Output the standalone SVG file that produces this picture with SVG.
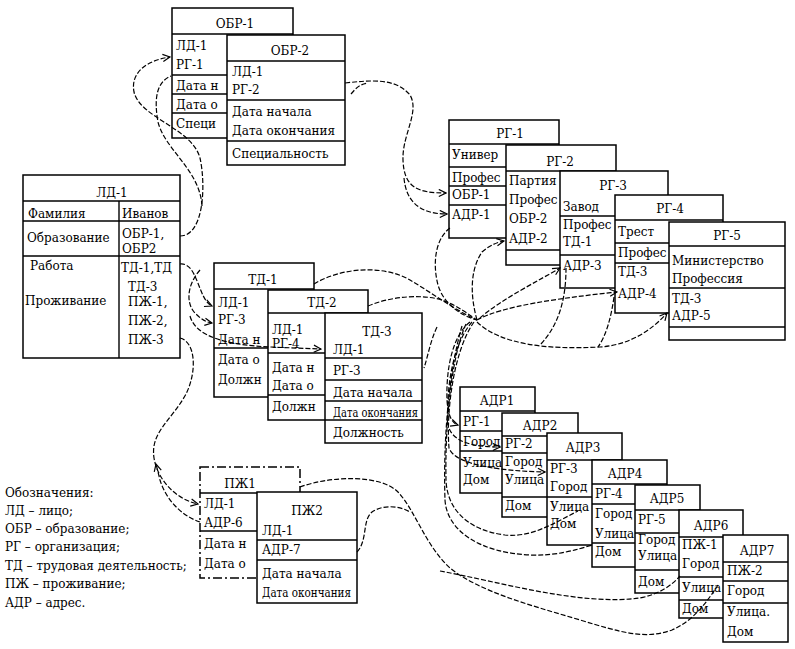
<svg xmlns="http://www.w3.org/2000/svg" width="795" height="649" viewBox="0 0 795 649">
<style>
.b{fill:#fff;stroke:#000;stroke-width:1.5}
.d{fill:#fff;stroke:#000;stroke-width:1.5;stroke-dasharray:9 3 2 3}
.l{stroke:#000;stroke-width:1.4}
.t{font-family:"DejaVu Serif","Liberation Serif",serif;font-size:12px;fill:#000}
.h{font-family:"DejaVu Serif","Liberation Serif",serif;font-size:12px;fill:#000;text-anchor:middle}
.c{fill:none;stroke:#000;stroke-width:1.2;stroke-dasharray:5 2}
</style>
<defs>
<marker id="a" viewBox="0 0 10 10" refX="9" refY="5" markerWidth="9" markerHeight="9" orient="auto" markerUnits="userSpaceOnUse"><path d="M1,1 L9,5 L1,9" fill="none" stroke="#000" stroke-width="1.3"/></marker>
</defs>

<g id="obr1">
<rect class="b" x="172" y="8" width="121" height="130"/>
<line class="l" x1="172" y1="34" x2="293" y2="34"/>
<line class="l" x1="172" y1="75" x2="293" y2="75"/>
<line class="l" x1="172" y1="94" x2="293" y2="94"/>
<line class="l" x1="172" y1="113" x2="293" y2="113"/>
<text class="h" x="235" y="28">ОБР-1</text>
<text class="t" x="176" y="50">ЛД-1</text>
<text class="t" x="176" y="69">РГ-1</text>
<text class="t" x="176" y="90">Дата н</text>
<text class="t" x="176" y="109">Дата о</text>
<text class="t" x="176" y="128">Специ</text>
</g>
<g id="obr2">
<rect class="b" x="227" y="35" width="118" height="130"/>
<line class="l" x1="227" y1="61" x2="345" y2="61"/>
<line class="l" x1="227" y1="100" x2="345" y2="100"/>
<line class="l" x1="227" y1="141" x2="345" y2="141"/>
<text class="h" x="290" y="55">ОБР-2</text>
<text class="t" x="232" y="76">ЛД-1</text>
<text class="t" x="232" y="94">РГ-2</text>
<text class="t" x="232" y="116">Дата начала</text>
<text class="t" x="232" y="135">Дата окончания</text>
<text class="t" x="232" y="158">Специальность</text>
</g>

<g id="ld1">
<rect class="b" x="23" y="175" width="157" height="183"/>
<line class="l" x1="23" y1="201" x2="180" y2="201"/>
<line class="l" x1="119" y1="201" x2="119" y2="358"/>
<line class="l" x1="23" y1="221" x2="180" y2="221"/>
<line class="l" x1="23" y1="256" x2="180" y2="256"/>
<text class="h" x="112" y="197">ЛД-1</text>
<text class="t" x="28" y="218">Фамилия</text>
<text class="t" x="122" y="218">Иванов</text>
<text class="t" x="27" y="242">Образование</text>
<text class="t" x="122" y="238">ОБР-1,</text>
<text class="t" x="122" y="253">ОБР2</text>
<text class="t" x="30" y="270">Работа</text>
<text class="t" x="121" y="272">ТД-1,ТД</text>
<text class="t" x="128" y="291">ТД-3</text>
<text class="t" x="25" y="305">Проживание</text>
<text class="t" x="128" y="306">ПЖ-1,</text>
<text class="t" x="128" y="325">ПЖ-2,</text>
<text class="t" x="128" y="344">ПЖ-3</text>
</g>

<g id="rg1">
<rect class="b" x="449" y="120" width="110" height="118"/>
<line class="l" x1="449" y1="144" x2="559" y2="144"/>
<line class="l" x1="449" y1="167" x2="559" y2="167"/>
<line class="l" x1="449" y1="186" x2="559" y2="186"/>
<line class="l" x1="449" y1="205" x2="559" y2="205"/>
<text class="h" x="510" y="138">РГ-1</text>
<text class="t" x="452" y="159">Универ</text>
<text class="t" x="452" y="182">Профес</text>
<text class="t" x="452" y="199">ОБР-1</text>
<text class="t" x="452" y="219">АДР-1</text>
</g>
<g id="rg2">
<rect class="b" x="506" y="145" width="110" height="120"/>
<line class="l" x1="506" y1="171" x2="616" y2="171"/>
<line class="l" x1="506" y1="250" x2="616" y2="250"/>
<text class="h" x="560" y="166">РГ-2</text>
<text class="t" x="509" y="185">Партия</text>
<text class="t" x="509" y="204">Профес</text>
<text class="t" x="509" y="223">ОБР-2</text>
<text class="t" x="509" y="243">АДР-2</text>
</g>
<g id="rg3">
<rect class="b" x="560" y="171" width="108" height="117"/>
<line class="l" x1="560" y1="216" x2="668" y2="216"/>
<line class="l" x1="560" y1="255" x2="668" y2="255"/>
<text class="h" x="613" y="190">РГ-3</text>
<text class="t" x="563" y="211">Завод</text>
<text class="t" x="563" y="229">Профес</text>
<text class="t" x="563" y="246">ТД-1</text>
<text class="t" x="563" y="270">АДР-3</text>
</g>
<g id="rg4">
<rect class="b" x="615" y="195" width="108" height="118"/>
<line class="l" x1="615" y1="220" x2="723" y2="220"/>
<line class="l" x1="615" y1="243" x2="723" y2="243"/>
<line class="l" x1="615" y1="263" x2="723" y2="263"/>
<text class="h" x="670" y="213">РГ-4</text>
<text class="t" x="618" y="236">Трест</text>
<text class="t" x="618" y="257">Профес</text>
<text class="t" x="618" y="276">ТД-3</text>
<text class="t" x="618" y="298">АДР-4</text>
</g>
<g id="rg5">
<rect class="b" x="669" y="222" width="116" height="118"/>
<line class="l" x1="669" y1="246" x2="785" y2="246"/>
<line class="l" x1="669" y1="288" x2="785" y2="288"/>
<line class="l" x1="669" y1="327" x2="785" y2="327"/>
<text class="h" x="727" y="240">РГ-5</text>
<text class="t" x="672" y="265">Министерство</text>
<text class="t" x="672" y="283">Профессия</text>
<text class="t" x="672" y="303">ТД-3</text>
<text class="t" x="672" y="320">АДР-5</text>
</g>

<g id="td1">
<rect class="b" x="214" y="263" width="100" height="134"/>
<line class="l" x1="214" y1="289" x2="314" y2="289"/>
<line class="l" x1="214" y1="348" x2="314" y2="348"/>
<text class="h" x="263" y="284">ТД-1</text>
<text class="t" x="218" y="307">ЛД-1</text>
<text class="t" x="218" y="324">РГ-3</text>
<text class="t" x="218" y="344">Дата н</text>
<text class="t" x="218" y="364">Дата о</text>
<text class="t" x="218" y="384">Должн</text>
</g>
<g id="td2">
<rect class="b" x="268" y="290" width="100" height="130"/>
<line class="l" x1="268" y1="313" x2="368" y2="313"/>
<line class="l" x1="268" y1="353" x2="368" y2="353"/>
<line class="l" x1="268" y1="395" x2="368" y2="395"/>
<text class="h" x="322" y="307">ТД-2</text>
<text class="t" x="272" y="334">ЛД-1</text>
<text class="t" x="272" y="348">РГ-4</text>
<text class="t" x="272" y="372">Дата н</text>
<text class="t" x="272" y="390">Дата о</text>
<text class="t" x="272" y="411">Должн</text>
</g>
<g id="td3">
<rect class="b" x="325" y="313" width="97" height="130"/>
<line class="l" x1="325" y1="358" x2="422" y2="358"/>
<line class="l" x1="325" y1="380" x2="422" y2="380"/>
<line class="l" x1="325" y1="401" x2="422" y2="401"/>
<line class="l" x1="325" y1="420" x2="422" y2="420"/>
<text class="h" x="377" y="336">ТД-3</text>
<text class="t" x="333" y="354">ЛД-1</text>
<text class="t" x="333" y="375">РГ-3</text>
<text class="t" x="333" y="397">Дата начала</text>
<text class="t" x="333" y="417" textLength="85" lengthAdjust="spacingAndGlyphs">Дата окончания</text>
<text class="t" x="333" y="437">Должность</text>
</g>

<g id="pzh1">
<rect class="d" x="200" y="467" width="100" height="111"/>
<line class="l" x1="200" y1="493" x2="300" y2="493"/>
<line class="l" x1="200" y1="531" x2="300" y2="531"/>
<text class="h" x="240" y="488">ПЖ1</text>
<text class="t" x="204" y="508">ЛД-1</text>
<text class="t" x="204" y="527">АДР-6</text>
<text class="t" x="204" y="548">Дата н</text>
<text class="t" x="204" y="568">Дата о</text>
</g>
<g id="pzh2">
<rect class="b" x="257" y="492" width="100" height="111"/>
<line class="l" x1="257" y1="540" x2="357" y2="540"/>
<line class="l" x1="257" y1="560" x2="357" y2="560"/>
<text class="h" x="307" y="515">ПЖ2</text>
<text class="t" x="262" y="535">ЛД-1</text>
<text class="t" x="262" y="554">АДР-7</text>
<text class="t" x="262" y="578">Дата начала</text>
<text class="t" x="262" y="597" textLength="89" lengthAdjust="spacingAndGlyphs">Дата окончания</text>
</g>

<g id="adr1">
<rect class="b" x="460" y="387" width="75" height="106"/>
<line class="l" x1="460" y1="411" x2="535" y2="411"/>
<line class="l" x1="460" y1="431" x2="535" y2="431"/>
<line class="l" x1="460" y1="451" x2="535" y2="451"/>
<text class="h" x="497" y="405">АДР1</text>
<text class="t" x="463" y="426">РГ-1</text>
<text class="t" x="463" y="446">Город</text>
<text class="t" x="463" y="467">Улица</text>
<text class="t" x="463" y="484">Дом</text>
</g>
<g id="adr2">
<rect class="b" x="502" y="413" width="76" height="104"/>
<line class="l" x1="502" y1="436" x2="578" y2="436"/>
<line class="l" x1="502" y1="453" x2="578" y2="453"/>
<line class="l" x1="502" y1="497" x2="578" y2="497"/>
<text class="h" x="540" y="430">АДР2</text>
<text class="t" x="505" y="448">РГ-2</text>
<text class="t" x="505" y="466">Город</text>
<text class="t" x="505" y="484">Улица</text>
<text class="t" x="505" y="510">Дом</text>
</g>
<g id="adr3">
<rect class="b" x="547" y="433" width="75" height="112"/>
<line class="l" x1="547" y1="460" x2="622" y2="460"/>
<line class="l" x1="547" y1="497" x2="622" y2="497"/>
<text class="h" x="583" y="452">АДР3</text>
<text class="t" x="550" y="473">РГ-3</text>
<text class="t" x="550" y="491">Город</text>
<text class="t" x="550" y="511">Улица</text>
<text class="t" x="550" y="528">Дом</text>
</g>
<g id="adr4">
<rect class="b" x="592" y="460" width="75" height="107"/>
<line class="l" x1="592" y1="484" x2="667" y2="484"/>
<line class="l" x1="592" y1="504" x2="667" y2="504"/>
<line class="l" x1="592" y1="543" x2="667" y2="543"/>
<text class="h" x="625" y="478">АДР4</text>
<text class="t" x="595" y="498">РГ-4</text>
<text class="t" x="595" y="518">Город</text>
<text class="t" x="595" y="538">Улица</text>
<text class="t" x="595" y="556">Дом</text>
</g>
<g id="adr5">
<rect class="b" x="635" y="485" width="65" height="108"/>
<line class="l" x1="635" y1="510" x2="700" y2="510"/>
<line class="l" x1="635" y1="533" x2="700" y2="533"/>
<line class="l" x1="635" y1="570" x2="700" y2="570"/>
<text class="h" x="667" y="503">АДР5</text>
<text class="t" x="638" y="524">РГ-5</text>
<text class="t" x="638" y="544">Город</text>
<text class="t" x="638" y="560">Улица</text>
<text class="t" x="638" y="586">Дом</text>
</g>
<g id="adr6">
<rect class="b" x="679" y="510" width="64" height="108"/>
<line class="l" x1="679" y1="537" x2="743" y2="537"/>
<line class="l" x1="679" y1="577" x2="743" y2="577"/>
<line class="l" x1="679" y1="600" x2="743" y2="600"/>
<text class="h" x="711" y="530">АДР6</text>
<text class="t" x="682" y="549">ПЖ-1</text>
<text class="t" x="682" y="568">Город</text>
<text class="t" x="682" y="592">Улица</text>
<text class="t" x="682" y="613">Дом</text>
</g>
<g id="adr7">
<rect class="b" x="723" y="535" width="65" height="107"/>
<line class="l" x1="723" y1="562" x2="788" y2="562"/>
<line class="l" x1="723" y1="581" x2="788" y2="581"/>
<line class="l" x1="723" y1="603" x2="788" y2="603"/>
<text class="h" x="757" y="555">АДР7</text>
<text class="t" x="727" y="575">ПЖ-2</text>
<text class="t" x="727" y="595">Город</text>
<text class="t" x="727" y="616">Улица.</text>
<text class="t" x="727" y="636">Дом</text>
</g>

<g id="legend">
<text class="t" x="5" y="497">Обозначения:</text>
<text class="t" x="5" y="515">ЛД – лицо;</text>
<text class="t" x="5" y="533">ОБР – образование;</text>
<text class="t" x="5" y="551">РГ – организация;</text>
<text class="t" x="5" y="570">ТД – трудовая деятельность;</text>
<text class="t" x="5" y="588">ПЖ – проживание;</text>
<text class="t" x="5" y="607">АДР – адрес.</text>
</g>

<g id="connectors">
<path class="c" marker-end="url(#a)" d="M180,236 C204,236 206,185 200,158 C192,128 140,118 134,92 C130,72 148,60 170,57"/>
<path class="c" d="M202,206 C200,170 165,150 158,122 C154,100 156,82 171,76"/>
<path class="c" marker-end="url(#a)" d="M345,83 C372,80 396,78 410,95 C420,112 402,135 403,160 C404,188 418,193 446,193"/>
<path class="c" marker-end="url(#a)" d="M404,178 C406,200 418,214 447,214"/>
<path class="c" d="M351,94 C356,88 360,84 368,83"/>
<path class="c" marker-end="url(#a)" d="M180,264 C198,262 198,300 212,306"/>
<path class="c" marker-end="url(#a)" d="M200,270 C186,286 186,305 196,314 C202,320 206,322 212,323"/>
<path class="c" marker-end="url(#a)" d="M190,316 C196,338 230,345 270,347 L321,349"/>
<path class="c" marker-end="url(#a)" d="M180,338 C196,342 197,372 186,394 C172,420 150,432 154,458 C158,482 178,500 198,504"/>
<path class="c" marker-end="url(#a)" d="M200,522 C182,516 166,500 160,480 L156,464"/>
<path class="c" d="M300,487 C330,476 380,474 398,492 C415,510 425,545 450,568 C480,592 530,605 580,620 C620,632 645,640 672,630 C695,620 708,600 718,585"/>
<path class="c" d="M357,552 C368,540 362,520 372,512 C382,505 398,505 410,512"/>
<path class="c" d="M440,571 C500,582 580,606 640,598 C660,594 672,585 680,576"/>
<path class="c" d="M450,228 C436,238 432,262 438,285 C444,305 462,316 477,320"/>
<path class="c" d="M314,284 C340,268 382,264 410,280 C432,293 455,310 477,320"/>
<path class="c" d="M368,306 C392,296 422,294 442,300 C458,306 468,314 477,320"/>
<path class="c" marker-end="url(#a)" d="M477,320 C502,306 560,298 617,292"/>
<path class="c" marker-end="url(#a)" d="M477,322 C500,344 545,350 600,347 C630,345 652,330 667,313"/>
<path class="c" d="M566,268 C566,292 562,322 540,345"/>
<path class="c" d="M614,297 C611,318 606,336 598,347"/>
<path class="c" marker-end="url(#a)" d="M480,318 C500,300 540,280 560,268"/>
<path class="c" marker-end="url(#a)" d="M477,320 C470,295 470,270 482,252 C490,245 498,242 504,241"/>
<path class="c" d="M437,327 C430,342 428,356 424,368"/>
<path class="c" marker-end="url(#a)" d="M470,322 C452,336 446,370 447,400 C448,416 452,423 458,425"/>
<path class="c" marker-end="url(#a)" d="M472,322 C452,345 446,390 448,425 C452,442 472,447 500,447"/>
<path class="c" marker-end="url(#a)" d="M474,322 C454,350 446,410 449,448 C455,465 500,471 545,472"/>
<path class="c" d="M466,324 C450,360 445,430 446,480 C447,508 466,530 505,535 C532,538 556,522 578,511"/>
<path class="c" d="M462,326 C449,370 443,440 445,500 C447,532 482,553 530,555 C556,556 576,550 592,545"/>
</g>
</svg>
